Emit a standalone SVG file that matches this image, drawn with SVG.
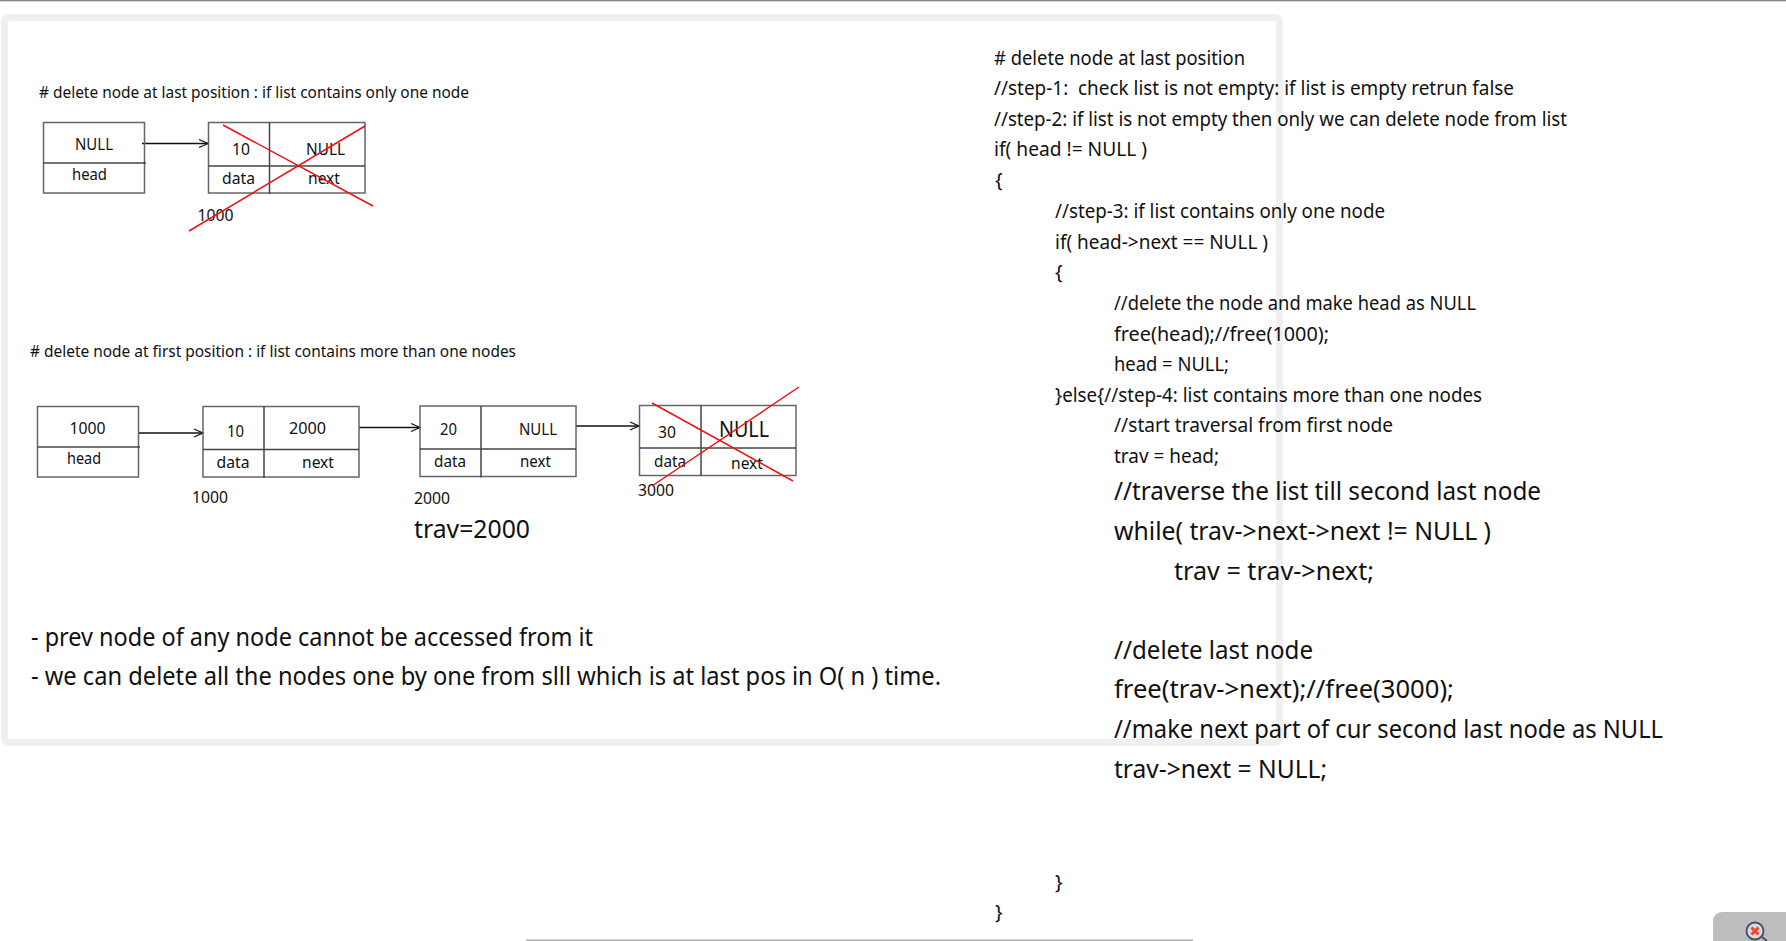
<svg xmlns="http://www.w3.org/2000/svg" width="1786" height="941" viewBox="0 0 1786 941">
<defs>
<marker id="arr" markerUnits="userSpaceOnUse" markerWidth="12" markerHeight="12" refX="10" refY="6" orient="auto"><path d="M1,2 L10,6 L1,10" fill="none" stroke="#111" stroke-width="1.2"/></marker>
</defs>
<style>
text{font-family:"Noto Sans","Open Sans","DejaVu Sans",sans-serif;fill:#111;white-space:pre}
.s{font-size:17px}
.c{font-size:20px}
.l{font-size:25px}
.t{font-size:16px}
.box{fill:none;stroke:#666;stroke-width:1.5}
.div{stroke:#444;stroke-width:1.5}
.x{stroke:#f01010;stroke-width:1.5;fill:none}
.con{stroke:#111;stroke-width:1.3;fill:none;marker-end:url(#arr)}
</style>
<rect width="1786" height="941" fill="#fff"/>
<rect x="0" y="0" width="1786" height="1.3" fill="#888"/>
<rect x="4.500" y="17.500" width="1275" height="725" rx="4" fill="none" stroke="#f0f0f0" stroke-width="7"/>
<rect x="526" y="939.500" width="667" height="1.500" fill="#aaa"/>
<g id="corner-button">
<rect x="1713" y="912" width="90" height="50" rx="9" fill="#bdbdbd"/>
<circle cx="1755" cy="931" r="8.500" fill="#d8d8de" stroke="#454c6c" stroke-width="1.800"/>
<path d="M1751.500,927.500 L1758.500,934.500 M1758.500,927.500 L1751.500,934.500" stroke="#f0452c" stroke-width="3"/>
<path d="M1762,937 L1767,941" stroke="#454c6c" stroke-width="2"/>
</g>
<text class="s" x="39" y="98" textLength="430" lengthAdjust="spacingAndGlyphs"># delete node at last position : if list contains only one node</text>
<text class="s" x="30" y="357" textLength="486" lengthAdjust="spacingAndGlyphs"># delete node at first position : if list contains more than one nodes</text>
<g id="connectors">
<line class="con" x1="142" y1="143.500" x2="208" y2="143.500"/>
<line class="con" x1="139" y1="433" x2="203" y2="433"/>
<line class="con" x1="359" y1="427.500" x2="420" y2="427.500"/>
<line class="con" x1="576" y1="426" x2="639" y2="426"/>
</g>
<g id="head-a">
<rect class="box" x="43.500" y="122.500" width="101" height="70.500"/>
<line class="div" x1="43.500" y1="163" x2="146" y2="163"/>
<text class="t" x="75" y="150" textLength="38" lengthAdjust="spacingAndGlyphs">NULL</text>
<text class="t" x="72" y="180" textLength="35" lengthAdjust="spacingAndGlyphs">head</text>
</g>
<g id="node-a">
<rect class="box" x="208.500" y="122.500" width="156.500" height="70.500"/>
<line class="div" x1="269.500" y1="122" x2="269.500" y2="194"/>
<line class="div" x1="208.500" y1="166" x2="365" y2="166"/>
<text class="t" x="232" y="154.500" textLength="18" lengthAdjust="spacingAndGlyphs">10</text>
<text class="t" x="306" y="154.500" textLength="39" lengthAdjust="spacingAndGlyphs">NULL</text>
<text class="t" x="222" y="184" textLength="33" lengthAdjust="spacingAndGlyphs">data</text>
<text class="t" x="308" y="184" textLength="32" lengthAdjust="spacingAndGlyphs">next</text>
<text class="t" x="197.500" y="221" textLength="36" lengthAdjust="spacingAndGlyphs">1000</text>
<path class="x" d="M223,125 L373,206 M365,126 L189,231"/>
</g>
<g id="head-b">
<rect class="box" x="37.500" y="406.500" width="101" height="70.500"/>
<line class="div" x1="37.500" y1="447" x2="140" y2="447"/>
<text class="t" x="69.500" y="434" textLength="36" lengthAdjust="spacingAndGlyphs">1000</text>
<text class="t" x="67" y="464" textLength="34" lengthAdjust="spacingAndGlyphs">head</text>
</g>
<g id="node-1">
<rect class="box" x="203" y="406.500" width="156" height="70.500"/>
<line class="div" x1="264" y1="406" x2="264" y2="478"/>
<line class="div" x1="203" y1="449.500" x2="359" y2="449.500"/>
<text class="t" x="227" y="437" textLength="17" lengthAdjust="spacingAndGlyphs">10</text>
<text class="t" x="289" y="434" textLength="37" lengthAdjust="spacingAndGlyphs">2000</text>
<text class="t" x="216.500" y="468" textLength="33" lengthAdjust="spacingAndGlyphs">data</text>
<text class="t" x="302" y="468" textLength="32" lengthAdjust="spacingAndGlyphs">next</text>
<text class="t" x="192" y="503" textLength="36" lengthAdjust="spacingAndGlyphs">1000</text>
</g>
<g id="node-2">
<rect class="box" x="420" y="406" width="156" height="70.500"/>
<line class="div" x1="481" y1="406" x2="481" y2="477.500"/>
<line class="div" x1="420" y1="449" x2="576" y2="449"/>
<text class="t" x="440" y="435" textLength="17" lengthAdjust="spacingAndGlyphs">20</text>
<text class="t" x="519" y="435" textLength="38" lengthAdjust="spacingAndGlyphs">NULL</text>
<text class="t" x="434" y="467" textLength="32" lengthAdjust="spacingAndGlyphs">data</text>
<text class="t" x="520" y="467" textLength="31" lengthAdjust="spacingAndGlyphs">next</text>
<text class="t" x="414" y="504" textLength="36" lengthAdjust="spacingAndGlyphs">2000</text>
</g>
<g id="node-3">
<rect class="box" x="639.500" y="405.500" width="156.500" height="70"/>
<line class="div" x1="701" y1="405" x2="701" y2="476"/>
<line class="div" x1="639.500" y1="448" x2="796" y2="448"/>
<text class="t" x="658" y="438" textLength="18" lengthAdjust="spacingAndGlyphs">30</text>
<text x="719" y="436.500" font-size="21" textLength="50" lengthAdjust="spacingAndGlyphs">NULL</text>
<text class="t" x="654" y="467" textLength="32" lengthAdjust="spacingAndGlyphs">data</text>
<text class="t" x="731" y="469" textLength="32" lengthAdjust="spacingAndGlyphs">next</text>
<text class="t" x="638" y="496" textLength="36" lengthAdjust="spacingAndGlyphs">3000</text>
<path class="x" d="M652,403 L793,481 M799,387 L652,486"/>
</g>
<text class="l" x="414" y="538" textLength="116" lengthAdjust="spacingAndGlyphs">trav=2000</text>
<text class="l" x="31" y="646" textLength="562" lengthAdjust="spacingAndGlyphs">- prev node of any node cannot be accessed from it</text>
<text class="l" x="31" y="685" textLength="910" lengthAdjust="spacingAndGlyphs">- we can delete all the nodes one by one from slll which is at last pos in O( n ) time.</text>
<g id="code">
<text class="c" x="994" y="64.500" textLength="251" lengthAdjust="spacingAndGlyphs"># delete node at last position</text>
<text class="c" x="994" y="95" textLength="520" lengthAdjust="spacingAndGlyphs">//step-1:  check list is not empty: if list is empty retrun false</text>
<text class="c" x="994" y="125.500" textLength="573" lengthAdjust="spacingAndGlyphs">//step-2: if list is not empty then only we can delete node from list</text>
<text class="c" x="994" y="156" textLength="153" lengthAdjust="spacingAndGlyphs">if( head != NULL )</text>
<text class="c" x="995" y="187">{</text>
<text class="c" x="1055" y="217.500" textLength="330" lengthAdjust="spacingAndGlyphs">//step-3: if list contains only one node</text>
<text class="c" x="1055" y="248.500" textLength="213" lengthAdjust="spacingAndGlyphs">if( head-&gt;next == NULL )</text>
<text class="c" x="1055" y="279">{</text>
<text class="c" x="1114" y="309.500" textLength="362" lengthAdjust="spacingAndGlyphs">//delete the node and make head as NULL</text>
<text class="c" x="1114" y="340.500" textLength="215" lengthAdjust="spacingAndGlyphs">free(head);//free(1000);</text>
<text class="c" x="1114" y="371" textLength="115" lengthAdjust="spacingAndGlyphs">head = NULL;</text>
<text class="c" x="1055" y="401.500" textLength="427" lengthAdjust="spacingAndGlyphs">}else{//step-4: list contains more than one nodes</text>
<text class="c" x="1114" y="432" textLength="279" lengthAdjust="spacingAndGlyphs">//start traversal from first node</text>
<text class="c" x="1114" y="462.500" textLength="105" lengthAdjust="spacingAndGlyphs">trav = head;</text>
<text class="l" x="1114" y="500" textLength="427" lengthAdjust="spacingAndGlyphs">//traverse the list till second last node</text>
<text class="l" x="1114" y="540" textLength="377" lengthAdjust="spacingAndGlyphs">while( trav-&gt;next-&gt;next != NULL )</text>
<text class="l" x="1174" y="580" textLength="200" lengthAdjust="spacingAndGlyphs">trav = trav-&gt;next;</text>
<text class="l" x="1114" y="659" textLength="199" lengthAdjust="spacingAndGlyphs">//delete last node</text>
<text class="l" x="1114" y="698" textLength="340" lengthAdjust="spacingAndGlyphs">free(trav-&gt;next);//free(3000);</text>
<text class="l" x="1114" y="738" textLength="549" lengthAdjust="spacingAndGlyphs">//make next part of cur second last node as NULL</text>
<text class="l" x="1114" y="778" textLength="213" lengthAdjust="spacingAndGlyphs">trav-&gt;next = NULL;</text>
<text class="c" x="1055" y="889">}</text>
<text class="c" x="995" y="919">}</text>
</g>
</svg>
